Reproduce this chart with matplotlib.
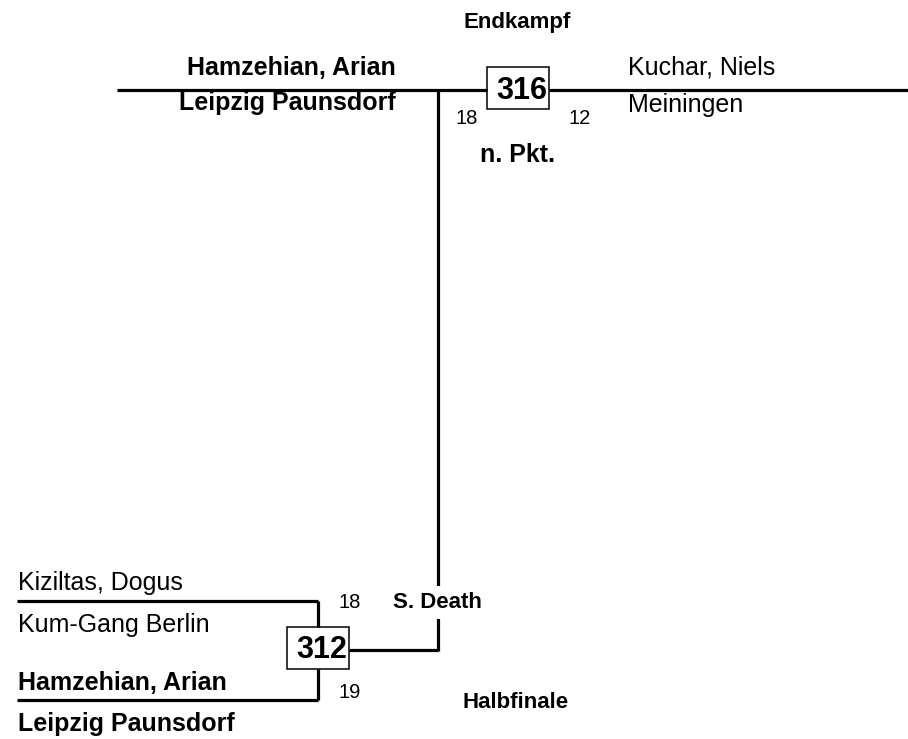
import matplotlib.pyplot as plt
from matplotlib.patches import Rectangle

# Daten
final_players = ["Hamzehian, Arian", "Kuchar, Niels"]
final_clubs = ["Leipzig Paunsdorf", "Meiningen"]
final_scores = [18, 12]
final_match = 316
final_winner = 0
final_note = "n. Pkt."

semi_players = ["Kiziltas, Dogus", "Hamzehian, Arian"]
semi_clubs = ["Kum-Gang Berlin", "Leipzig Paunsdorf"]
semi_scores = [18, 19]
semi_match = 312
semi_winner = 1
semi_note = "S. Death"

round_titles = ["Endkampf", "Halbfinale"]

plt.rcParams['font.family'] = ['Liberation Sans', 'DejaVu Sans']

fig = plt.figure(figsize=(9.08, 7.39), dpi=100)
ax = fig.add_axes([0, 0, 1, 1])
ax.set_xlim(0, 908)
ax.set_ylim(739, 0)
ax.axis('off')

LW = 2.3
NAME = 18
SCORE = 14.5
LABEL = 16
BOX = 22


def weight(i, winner):
    return 'bold' if i == winner else 'normal'


# --- Halbfinale (unten links) ---
y_lines = [600.5, 700]
for i, y in enumerate(y_lines):
    w = weight(i, semi_winner)
    ax.plot([17, 318], [y, y], color='black', lw=LW, solid_capstyle='butt')
    ax.text(18, y - 10.5, semi_players[i], fontsize=NAME, fontweight=w, va='baseline', ha='left')
    ax.text(18, y + 31.5, semi_clubs[i], fontsize=NAME, fontweight=w, va='baseline', ha='left')
ax.plot([318, 318], [y_lines[0], 627], color='black', lw=LW, solid_capstyle='butt')
ax.plot([318, 318], [669, y_lines[1]], color='black', lw=LW, solid_capstyle='butt')
ax.text(350, 608, str(semi_scores[0]), fontsize=SCORE, ha='center', va='baseline')
ax.text(350, 698, str(semi_scores[1]), fontsize=SCORE, ha='center', va='baseline')
ax.add_patch(Rectangle((287, 627), 62, 42, fill=False, edgecolor='black', lw=1.1, zorder=3))
ax.text(347, 658, str(semi_match), fontsize=BOX, fontweight='bold', ha='right', va='baseline')

# Verbindung zum Endkampf
ax.plot([349, 437.5], [650, 650], color='black', lw=LW, solid_capstyle='butt')
ax.plot([437.5, 437.5], [90, 651], color='black', lw=LW, solid_capstyle='butt')
ax.text(437, 608, semi_note, fontsize=LABEL, fontweight='bold', ha='center', va='baseline',
        bbox=dict(facecolor='white', edgecolor='none', pad=4), zorder=4)
ax.text(516, 708, round_titles[1], fontsize=LABEL, fontweight='bold', ha='center', va='baseline')

# --- Endkampf (oben) ---
ax.plot([117, 487], [90, 90], color='black', lw=LW, solid_capstyle='butt')
ax.plot([549, 908], [90, 90], color='black', lw=LW, solid_capstyle='butt')
w = weight(0, final_winner)
ax.text(396, 75, final_players[0], fontsize=NAME, fontweight=w, ha='right', va='baseline')
ax.text(396, 110, final_clubs[0], fontsize=NAME, fontweight=w, ha='right', va='baseline')
w = weight(1, final_winner)
ax.text(628, 75, final_players[1], fontsize=NAME, fontweight=w, ha='left', va='baseline')
ax.text(628, 112, final_clubs[1], fontsize=NAME, fontweight=w, ha='left', va='baseline')
ax.text(467, 124, str(final_scores[0]), fontsize=SCORE, ha='center', va='baseline')
ax.text(580, 124, str(final_scores[1]), fontsize=SCORE, ha='center', va='baseline')
ax.add_patch(Rectangle((487, 67), 62, 42, fill=False, edgecolor='black', lw=1.1, zorder=3))
ax.text(547, 99, str(final_match), fontsize=BOX, fontweight='bold', ha='right', va='baseline')
ax.text(517, 162, final_note, fontsize=18, fontweight='bold', ha='center', va='baseline')
ax.text(517, 28, round_titles[0], fontsize=LABEL, fontweight='bold', ha='center', va='baseline')

fig.savefig('out.png', dpi=100, facecolor='white')
